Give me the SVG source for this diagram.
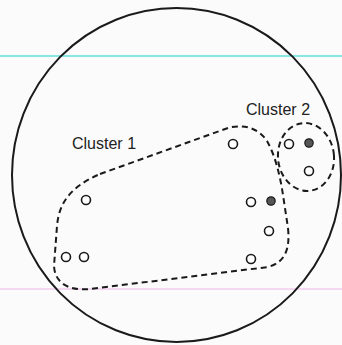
<svg xmlns="http://www.w3.org/2000/svg" width="342" height="345" viewBox="0 0 342 345">
<style>
.pt{fill:#fff;stroke:#1a1a1a;stroke-width:1.6}
.ptf{fill:#555;stroke:#1a1a1a;stroke-width:1.2}
.dash{fill:none;stroke:#1a1a1a;stroke-width:2;stroke-dasharray:6 4}
.lbl{font-family:"Liberation Sans",Arial,sans-serif;font-size:16px;fill:#222}
</style>
<rect width="342" height="345" fill="#fbfbfb"/>
<line x1="0" y1="56" x2="342" y2="56" stroke="#5fe0dc" stroke-width="1.5"/>
<line x1="0" y1="289" x2="342" y2="289" stroke="#f2cdee" stroke-width="1.5"/>
<g id="population">
<ellipse cx="176.5" cy="175" rx="164.5" ry="167" fill="none" stroke="#1a1a1a" stroke-width="2"/>
</g>
<g id="cluster1">
<path class="dash" d="M100,174 L228,128 C242,124 258,127 267,141 C275,155 280,175 283,195 L288,228 C290,248 286,262 268,267 L90,289 C68,291 55,283 54,266 L57,226 C59,203 70,187 100,174 Z"/>
<text class="lbl" x="72" y="149">Cluster 1</text>
</g>
<g id="cluster2">
<ellipse class="dash" cx="306" cy="157" rx="28" ry="34" transform="rotate(-6 306 157)"/>
<text class="lbl" x="246" y="115">Cluster 2</text>
</g>
<g id="points">
<circle class="pt" cx="86" cy="200" r="4.5"/>
<circle class="pt" cx="66" cy="257" r="4.5"/>
<circle class="pt" cx="84" cy="257" r="4.5"/>
<circle class="pt" cx="233" cy="144" r="4.5"/>
<circle class="pt" cx="251" cy="202" r="4.5"/>
<circle class="ptf" cx="271" cy="201" r="4.2"/>
<circle class="pt" cx="269" cy="231" r="4.5"/>
<circle class="pt" cx="251" cy="259" r="4.5"/>
<circle class="pt" cx="289" cy="144" r="4.5"/>
<circle class="ptf" cx="309" cy="143" r="4.2"/>
<circle class="pt" cx="309" cy="171" r="4.5"/>
</g>
</svg>
